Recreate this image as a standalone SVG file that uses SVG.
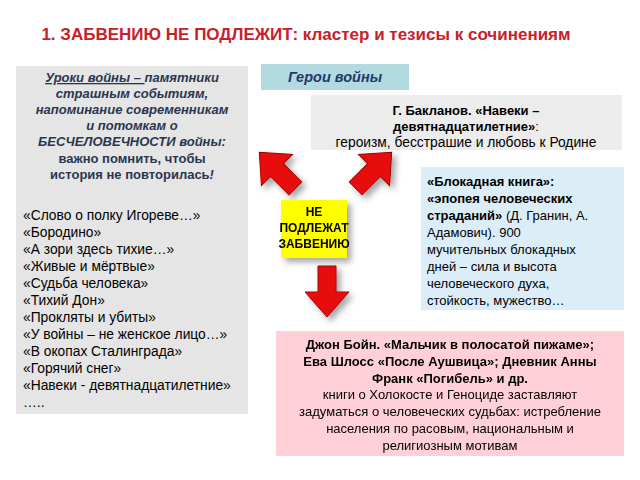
<svg xmlns="http://www.w3.org/2000/svg" width="640" height="480" viewBox="0 0 640 480">
<style>
text{font-family:"Liberation Sans",Arial,sans-serif;font-size:13px;fill:#000}
.l{fill:#2a3550}
.b{font-weight:bold}
.i{font-style:italic}
.big{font-size:13.8px}
.arrow{fill:#e81010;stroke:#a00000;stroke-width:1}
</style>
<defs>
<filter id="sh" x="-20%" y="-20%" width="150%" height="150%"><feDropShadow dx="4" dy="4" stdDeviation="3" flood-color="#000" flood-opacity="0.35"/></filter>
<polygon id="arr" class="arrow" points="-9,-26 9,-26 9,0 22,0 0,25 -22,0 -9,0"/>
</defs>
<rect width="640" height="480" fill="#fff"/>
<text x="306" y="40" text-anchor="middle" class="b" style="font-size:17px;fill:#c8202a">1. ЗАБВЕНИЮ НЕ ПОДЛЕЖИТ: кластер и тезисы к сочинениям</text>
<g id="left">
<rect x="16" y="66" width="232" height="348" fill="#e5e5e5"/>
<g text-anchor="middle">
<text x="132" y="82" class="l b i"><tspan text-decoration="underline">Уроки войны – </tspan>памятники</text>
<text x="132" y="98" class="l b i">страшным событиям,</text>
<text x="132" y="114" class="l b i">напоминание современникам</text>
<text x="132" y="130" class="l b i">и потомкам о</text>
<text x="132" y="146" class="l b i">БЕСЧЕЛОВЕЧНОСТИ войны:</text>
<text x="132" y="163" class="l b">важно помнить, чтобы</text>
<text x="132" y="179" class="l b">история не повторилась<tspan class="i">!</tspan></text>
</g>
<g>
<text x="23" y="220" class="big">«Слово о полку Игореве…»</text>
<text x="23" y="237" class="big">«Бородино»</text>
<text x="23" y="254" class="big">«А зори здесь тихие…»</text>
<text x="23" y="271" class="big">«Живые и мёртвые»</text>
<text x="23" y="288" class="big">«Судьба человека»</text>
<text x="23" y="305" class="big">«Тихий Дон»</text>
<text x="23" y="322" class="big">«Прокляты и убиты»</text>
<text x="23" y="339" class="big">«У войны – не женское лицо…»</text>
<text x="23" y="356" class="big">«В окопах Сталинграда»</text>
<text x="23" y="373" class="big">«Горячий снег»</text>
<text x="23" y="390" class="big">«Навеки - девятнадцатилетние»</text>
<text x="23" y="407" class="big">…..</text>
</g>
</g>
<g id="heroes">
<rect x="261" y="64" width="148" height="26" fill="#b3d9e1"/>
<text x="335" y="82" text-anchor="middle" class="b i" style="font-size:14.5px;fill:#1f3a6a">Герои войны</text>
</g>
<g id="connectors" filter="url(#sh)">
<use href="#arr" transform="translate(277,170) rotate(135)"/>
<use href="#arr" transform="translate(374,170) rotate(-135)"/>
<use href="#arr" transform="translate(327,292)"/>
</g>
<g id="baklanov">
<rect x="311" y="95" width="311" height="55" fill="#ececec"/>
<text x="466" y="115" text-anchor="middle" class="b">Г. Бакланов. «Навеки –</text>
<text x="466" y="131" text-anchor="middle"><tspan class="b">девятнадцатилетние»</tspan>:</text>
<text x="466" y="147" text-anchor="middle" class="big">героизм, бесстрашие и любовь к Родине</text>
</g>
<g id="blockade">
<rect x="421" y="167" width="203" height="143" fill="#dbeef8"/>
<text x="427" y="186" class="b">«Блокадная книга»:</text>
<text x="427" y="203" class="b">«эпопея человеческих</text>
<text x="427" y="220"><tspan class="b">страданий»</tspan> (Д. Гранин, А.</text>
<text x="427" y="237">Адамович). 900</text>
<text x="427" y="254">мучительных блокадных</text>
<text x="427" y="271">дней – сила и высота</text>
<text x="427" y="288">человеческого духа,</text>
<text x="427" y="305">стойкость, мужество…</text>
</g>
<g id="center">
<rect x="281" y="200" width="66" height="58" fill="#ffff00" filter="url(#sh)"/>
<text x="314" y="216" text-anchor="middle" class="b" style="font-size:12px">НЕ</text>
<text x="314" y="232" text-anchor="middle" class="b" style="font-size:12px">ПОДЛЕЖАТ</text>
<text x="314" y="248" text-anchor="middle" class="b" style="font-size:12px">ЗАБВЕНИЮ</text>
</g>
<g id="bottom">
<rect x="276" y="331" width="348" height="125" fill="#ffd0d8"/>
<g text-anchor="middle">
<text x="450" y="349" class="b">Джон Бойн. «Мальчик в полосатой пижаме»;</text>
<text x="450" y="366" class="b">Ева Шлосс «После Аушвица»; Дневник Анны</text>
<text x="450" y="383" class="b">Франк «Погибель» и др.</text>
<text x="450" y="399">книги о Холокосте  и Геноциде заставляют</text>
<text x="450" y="416">задуматься о человеческих судьбах: истребление</text>
<text x="450" y="433">населения по расовым, национальным и</text>
<text x="450" y="450">религиозным мотивам</text>
</g>
</g>
</svg>
